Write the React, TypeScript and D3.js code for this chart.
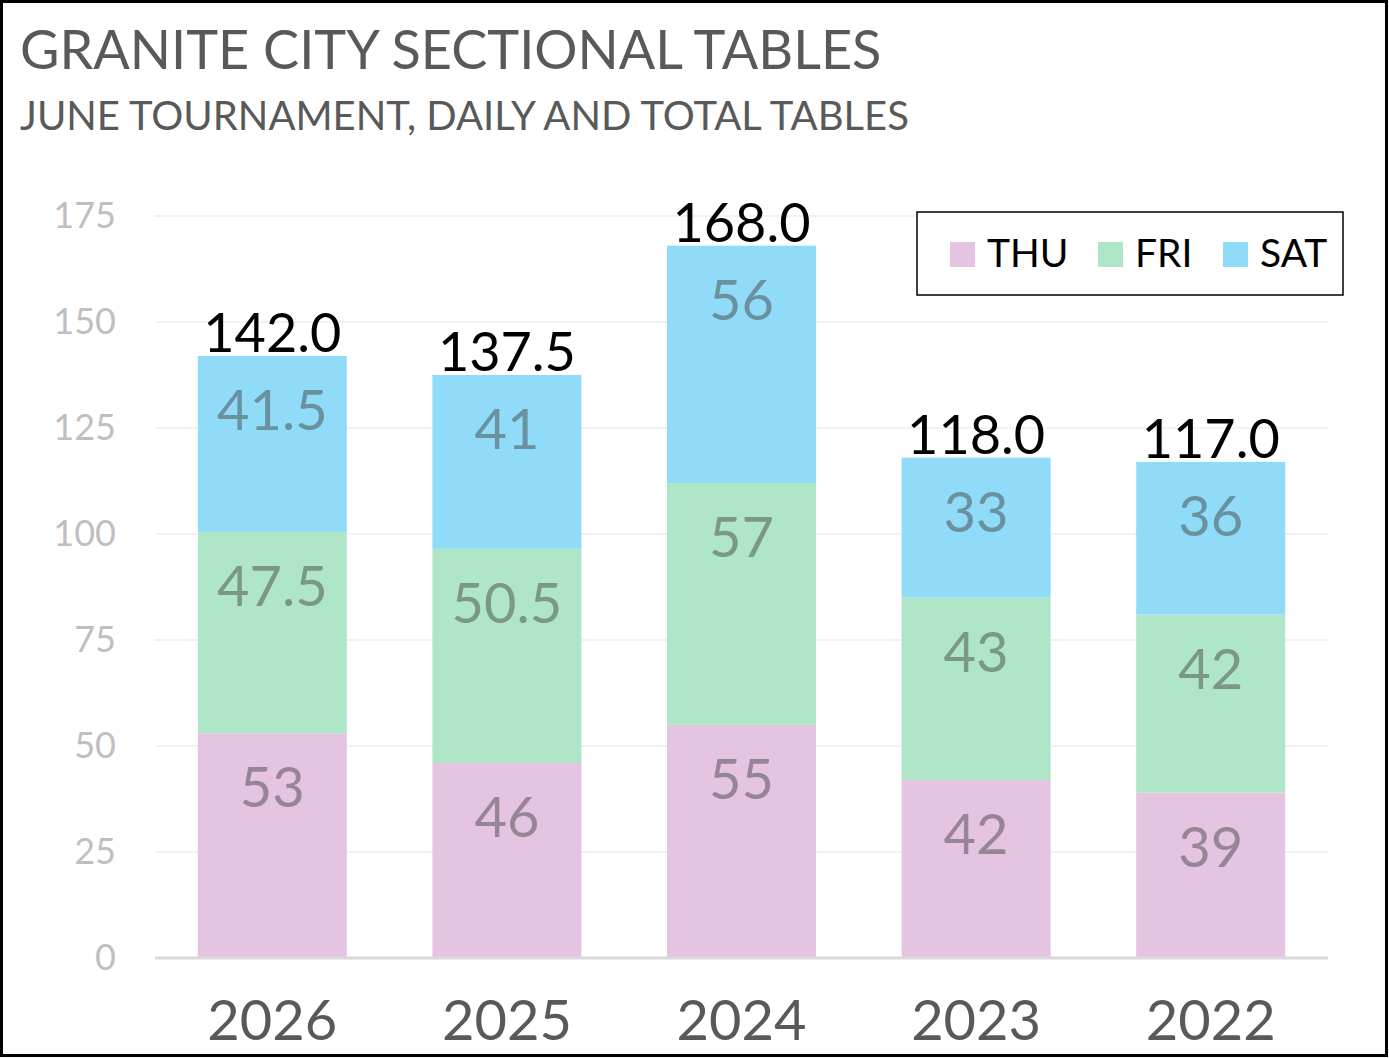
import React from "react";
import * as d3 from "d3";

const years = ["2026", "2025", "2024", "2023", "2022"];
const thu = [53, 46, 55, 42, 39];
const fri = [47.5, 50.5, 57, 43, 42];
const sat = [41.5, 41, 56, 33, 36];
const seriesNames = ["THU", "FRI", "SAT"];
const seriesColors = ["#E5C4E2", "#AEE6C7", "#90DBF8"];
const yTicks = [0, 25, 50, 75, 100, 125, 150, 175];

const W = 1389;
const H = 1058;
const FONT = "Lato, 'Open Sans', sans-serif";

export default function App() {
  const x = d3
    .scaleBand<string>()
    .domain(years)
    .range([155, 1328])
    .paddingInner(0.365)
    .paddingOuter(0.1825);
  const y = d3.scaleLinear().domain([0, 175]).range([958, 216]);

  const rows = years.map((yr, i) => ({ year: yr, THU: thu[i], FRI: fri[i], SAT: sat[i] }));
  const stack = d3.stack<any>().keys(seriesNames)(rows);
  const totals = years.map((_, i) => thu[i] + fri[i] + sat[i]);

  const legendX = [950, 1098, 1223];

  return (
    <div style={{ position: "absolute", left: 0, top: 0 }}>
      <svg width={W} height={H} style={{ display: "block", fontFamily: FONT }}>
        <rect x={0} y={0} width={W} height={H} fill="#fff" />
        <text x={20} y={69} fontSize={54} fill="#595959">
          GRANITE CITY SECTIONAL TABLES
        </text>
        <text x={20} y={130} fontSize={40} fill="#595959">
          JUNE TOURNAMENT, DAILY AND TOTAL TABLES
        </text>

        {yTicks.map((t) => (
          <g key={t}>
            {t > 0 && (
              <line x1={155} x2={1328} y1={y(t)} y2={y(t)} stroke="#F2F2F2" strokeWidth={2} />
            )}
            <text x={116} y={y(t) + 12} textAnchor="end" fontSize={36} fill="#BFBFBF">
              {t}
            </text>
          </g>
        ))}

        {stack.map((layer, si) => (
          <g key={layer.key}>
            {layer.map((d, i) => (
              <g key={i}>
                <rect
                  x={x(years[i])}
                  y={y(d[1])}
                  width={x.bandwidth()}
                  height={y(d[0]) - y(d[1])}
                  fill={seriesColors[si]}
                />
                <text
                  x={(x(years[i]) as number) + x.bandwidth() / 2}
                  y={y(d[1]) + 74}
                  textAnchor="middle"
                  fontSize={56}
                  fill="#404040"
                  fillOpacity={0.48}
                >
                  {d[1] - d[0]}
                </text>
              </g>
            ))}
          </g>
        ))}

        <line x1={155} x2={1328} y1={958} y2={958} stroke="#D9D9D9" strokeWidth={3} />

        {totals.map((t, i) => (
          <text
            key={i}
            x={(x(years[i]) as number) + x.bandwidth() / 2}
            y={y(t) - 4}
            textAnchor="middle"
            fontSize={54}
            fill="#000"
          >
            {t.toFixed(1)}
          </text>
        ))}

        {years.map((yr) => (
          <text
            key={yr}
            x={(x(yr) as number) + x.bandwidth() / 2}
            y={1040}
            textAnchor="middle"
            fontSize={56}
            fill="#595959"
          >
            {yr}
          </text>
        ))}

        <rect x={917} y={212} width={426} height={83} fill="#fff" stroke="#000" strokeWidth={1.5} />
        {seriesNames.map((n, i) => (
          <g key={n}>
            <rect x={legendX[i]} y={242} width={25} height={25} fill={seriesColors[i]} />
            <text x={legendX[i] + 37} y={267} fontSize={39} fill="#000">
              {n}
            </text>
          </g>
        ))}

        <rect x={1.5} y={1.5} width={W - 4} height={H - 4} fill="none" stroke="#000" strokeWidth={3} />
      </svg>
    </div>
  );
}
